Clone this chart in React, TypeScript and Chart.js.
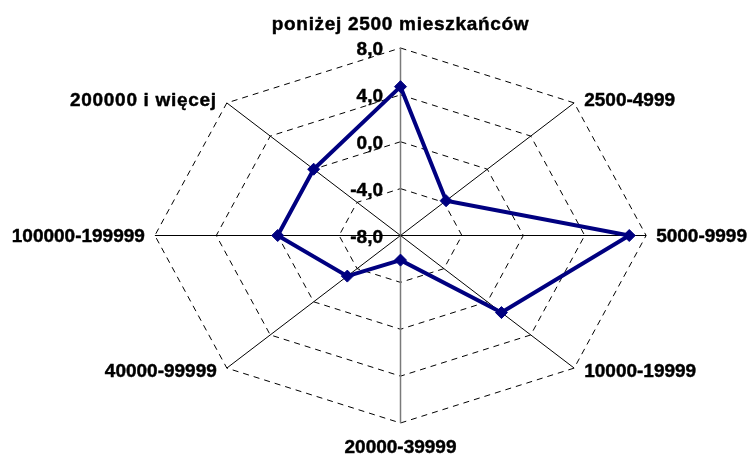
import React, { useEffect, useRef } from "react";
import { Chart, registerables, RadialLinearScale } from "chart.js";

Chart.register(...registerables);

// ---- data ----
const categories = [
  "poniżej 2500 mieszkańców",
  "2500-4999",
  "5000-9999",
  "10000-19999",
  "20000-39999",
  "40000-99999",
  "100000-199999",
  "200000 i więcej",
];
const values = [4.7, -3.8, 6.9, 1.3, -5.9, -3.1, 0.0, 0.0];
const tickValues = [-8, -4, 0, 4, 8];
const tickLabels = ["-8,0", "-4,0", "0,0", "4,0", "8,0"];

// ---- layout constants ----
const CX = 400.5;
const CY = 235.5;
const RADIUS = 187.5;
const STRETCH = 1.31;
const FONT = 'bold 19px "Liberation Sans", Arial, sans-serif';

class EllipticalRadialScale extends RadialLinearScale {
  static id = "ellipticalRadial";
  setCenterPoint() {
    this.xCenter = CX;
    this.yCenter = CY;
    this.drawingArea = RADIUS;
  }
  getPointPosition(index: number, distance: number, additionalAngle = 0) {
    const p = super.getPointPosition(index, distance, additionalAngle);
    return { x: this.xCenter + (p.x - this.xCenter) * STRETCH, y: p.y, angle: p.angle };
  }
}
Chart.register(EllipticalRadialScale as any);

function boldText(ctx: CanvasRenderingContext2D, text: string, x: number, y: number) {
  ctx.fillText(text, x, y);
  ctx.strokeText(text, x, y);
}

const labelPlugin = {
  id: "customLabels",
  afterDraw(chart: any) {
    const scale = chart.scales.r;
    const ctx = chart.ctx as CanvasRenderingContext2D;
    ctx.save();
    ctx.fillStyle = "#000";
    ctx.strokeStyle = "#000";
    ctx.lineWidth = 0.45;
    ctx.lineJoin = "round";
    ctx.font = FONT;
    ctx.textBaseline = "middle";
    // tick labels
    ctx.textAlign = "right";
    tickValues.forEach((v, i) => {
      const d = scale.getDistanceFromCenterForValue(v);
      boldText(ctx, tickLabels[i], scale.xCenter - 17.5, scale.yCenter - d + 2);
    });
    // category labels
    categories.forEach((label, i) => {
      const p = scale.getPointPosition(i, scale.drawingArea);
      const dx = p.x - scale.xCenter;
      const dy = p.y - scale.yCenter;
      (ctx as any).letterSpacing = /[a-z]/i.test(label) ? "0.7px" : "0px";
      let x = p.x;
      let y = p.y;
      if (Math.abs(dx) < 1) {
        ctx.textAlign = "center";
        y = dy < 0 ? p.y - 23 : p.y + 25;
      } else if (dx > 0) {
        ctx.textAlign = "left";
        x = p.x + 10;
        y = p.y + 1 + 4 * (dy / scale.drawingArea);
      } else {
        ctx.textAlign = "right";
        x = p.x - 10;
        y = p.y + 1 + 4 * (dy / scale.drawingArea);
      }
      boldText(ctx, label, x, y);
    });
    ctx.restore();
  },
};

export default function App() {
  const ref = useRef<HTMLCanvasElement | null>(null);
  useEffect(() => {
    if (!ref.current) return;
    const chart = new Chart(ref.current, {
      type: "radar",
      data: {
        labels: categories,
        datasets: [
          {
            data: values,
            fill: false,
            borderColor: "#000080",
            borderWidth: 4,
            tension: 0,
            pointStyle: "rectRot",
            pointRadius: 6,
            pointBackgroundColor: "#000080",
            pointBorderColor: "#000080",
            pointBorderWidth: 1,
            clip: false,
          } as any,
        ],
      },
      options: {
        responsive: false,
        animation: false,
        plugins: { legend: { display: false }, tooltip: { enabled: false } },
        scales: {
          r: {
            type: "ellipticalRadial" as any,
            min: -8,
            max: 8,
            ticks: { stepSize: 4, display: false },
            grid: { color: "#000", lineWidth: 1 },
            border: { dash: [6, 5] },
            angleLines: {
              color: (c: any) => (c.index === 0 || c.index === 4 ? "#7a7a7a" : "#000"),
              lineWidth: (c: any) => (c.index === 0 || c.index === 4 ? 1.5 : 1),
            },
            pointLabels: { display: false },
          } as any,
        },
      },
      plugins: [labelPlugin],
    });
    return () => chart.destroy();
  }, []);
  return (
    <div style={{ position: "fixed", left: 0, top: 0, width: 749, height: 456, background: "#fff" }}>
      <canvas ref={ref} width={749} height={456} />
    </div>
  );
}
